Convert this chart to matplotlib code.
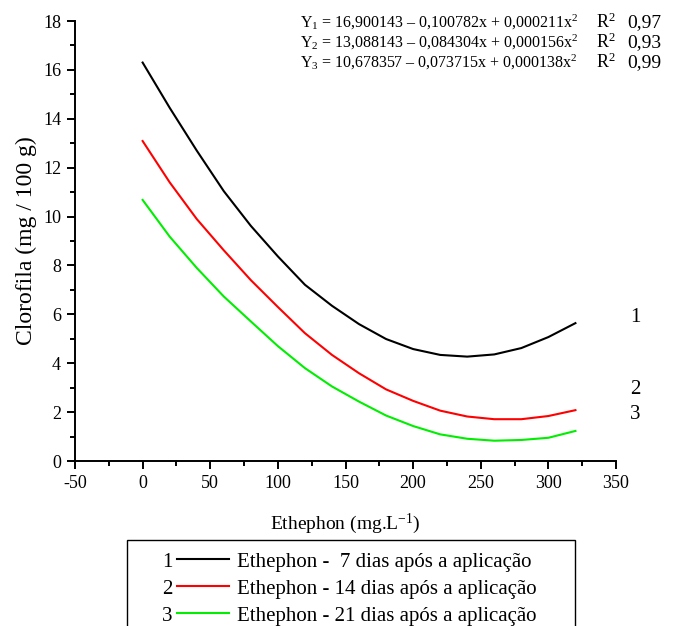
import matplotlib.pyplot as plt
from matplotlib.patches import Rectangle
from matplotlib.ticker import MultipleLocator

plt.rcParams['font.family'] = 'Liberation Serif'
plt.rcParams['mathtext.fontset'] = 'custom'
plt.rcParams['mathtext.rm'] = 'Liberation Serif'
plt.rcParams['mathtext.it'] = 'Liberation Serif:italic'
plt.rcParams['axes.unicode_minus'] = False

# Data (dose of ethephon in mg/L)
dose = [0, 20, 40, 60, 80, 100, 120, 140, 160, 180, 200, 220, 240, 260, 280, 300, 320]
dias7 = [16.30, 14.45, 12.70, 11.04, 9.62, 8.37, 7.21, 6.35, 5.60, 4.99, 4.58, 4.34, 4.27, 4.36, 4.62, 5.07, 5.64]
dias14 = [13.09, 11.40, 9.90, 8.62, 7.40, 6.30, 5.23, 4.34, 3.59, 2.93, 2.46, 2.06, 1.82, 1.71, 1.71, 1.84, 2.08]
dias21 = [10.68, 9.18, 7.90, 6.73, 5.71, 4.70, 3.80, 3.05, 2.43, 1.86, 1.43, 1.09, 0.91, 0.83, 0.86, 0.95, 1.23]

series = [dias7, dias14, dias21]
colors = ['black', '#ff0000', '#00ee00']
numbers = ['1', '2', '3']
legend_labels = ['Ethephon -  7 dias após a aplicação',
                 'Ethephon - 14 dias após a aplicação',
                 'Ethephon - 21 dias após a aplicação']
equations = ['Y$_1$ = 16,900143 \u2013 0,100782x + 0,000211x$^2$',
             'Y$_2$ = 13,088143 \u2013 0,084304x + 0,000156x$^2$',
             'Y$_3$ = 10,678357 \u2013 0,073715x + 0,000138x$^2$']
r2 = ['0,97', '0,93', '0,99']
end_label_y = [5.86, 2.91, 1.89]

fig = plt.figure(figsize=(6.75, 6.26), dpi=100)
ax = fig.add_axes([75/675, 1 - 461/626, 541/675, 440/626])

lines = []
for ys, c in zip(series, colors):
    ln, = ax.plot(dose, ys, color=c, lw=1.5)
    lines.append(ln)

ax.set_xlim(-50, 350)
ax.set_ylim(0, 18)
ax.xaxis.set_major_locator(MultipleLocator(50))
ax.xaxis.set_minor_locator(MultipleLocator(25))
ax.yaxis.set_major_locator(MultipleLocator(2))
ax.yaxis.set_minor_locator(MultipleLocator(1))
ax.spines['top'].set_visible(False)
ax.spines['right'].set_visible(False)
for s in ['left', 'bottom']:
    ax.spines[s].set_linewidth(1.4)
ax.tick_params(which='major', direction='out', length=6, width=1.4, labelsize=13, pad=4)
ax.tick_params(which='minor', direction='out', length=3.5, width=1.4)

ax.set_xlabel('Ethephon (mg.L$^{-1}$)', fontsize=14, labelpad=14)
ax.set_ylabel('Clorofila (mg / 100 g)', fontsize=17, labelpad=4)

# equations and R2 at the top
for i, (eq, r) in enumerate(zip(equations, r2)):
    yy = 17.95 - 0.82 * i
    ax.text(116, yy, eq, fontsize=11.5, va='center', ha='left', clip_on=False)
    ax.text(335, yy, 'R$^2$', fontsize=13, va='center', ha='left', clip_on=False)
    ax.text(358, yy, r, fontsize=14, va='center', ha='left', clip_on=False)

# curve numbers on the right
for n, yy in zip(numbers, end_label_y):
    ax.text(364, yy, n, fontsize=15, va='center', ha='center', clip_on=False)

# legend below the axes
leg = fig.legend(lines, legend_labels, loc='upper left',
                 bbox_to_anchor=(177/675, 1 - 552/626), frameon=False,
                 fontsize=15, handlelength=2.5, handletextpad=0.4,
                 labelspacing=0.36, borderpad=0, borderaxespad=0)
fig.patches.append(Rectangle((127/675, -0.05), (575 - 127)/675, 0.05 + (1 - 540/626),
                             transform=fig.transFigure, fill=False,
                             edgecolor='black', lw=1.0))

fig.canvas.draw()
inv = fig.transFigure.inverted()
for n, t in zip(numbers, leg.get_texts()):
    bb = t.get_window_extent()
    yc = inv.transform((0, (bb.y0 + bb.y1) / 2))[1]
    fig.text(167/675, yc, n, fontsize=15, ha='center', va='center')

fig.savefig('out.png', dpi=100)
